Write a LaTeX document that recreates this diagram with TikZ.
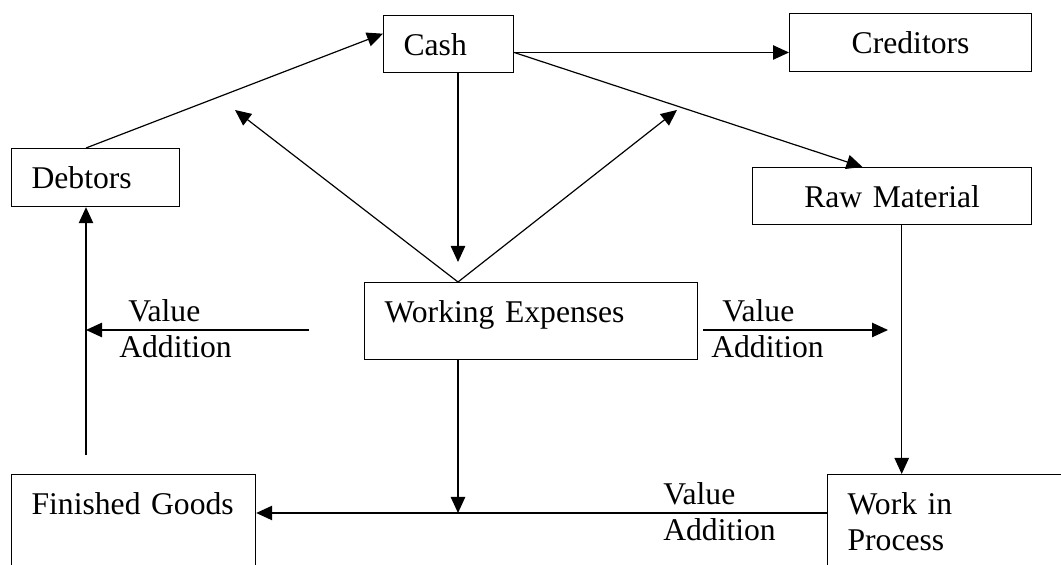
\documentclass[tikz,border=0pt]{standalone}
\usepackage{fontspec}
\setmainfont{Liberation Serif}
\usetikzlibrary{arrows.meta,positioning}

\begin{document}
\begin{tikzpicture}[
  box/.style={draw, line width=0.85pt, anchor=north west, align=left,
              inner xsep=0.5cm, inner ysep=0pt, text height=1cm},
  lbl/.style={anchor=north west, align=left, inner sep=0pt, text height=1.5cm},
  arr/.style={-{Triangle[length=0.4cm,width=0.36cm]}, line width=0.85pt},
  font=\fontsize{22.5pt}{25.6pt}\selectfont
]
  \useasboundingbox (0,0) rectangle (26.525,14.125);

  % boxes
  \node[box, text width=2.25cm, text depth=0.425cm] (cash) at (9.575,13.75) {Cash};
  \node[box, align=center, text width=5.05cm, text depth=0.45cm] (cred) at (19.725,13.8) {Creditors};
  \node[box, text width=3.2cm, text depth=0.45cm] (deb) at (0.275,10.425) {Debtors};
  \node[box, align=center, text width=5.975cm, text depth=0.425cm] (rm) at (18.8,9.95) {Raw Material};
  \node[box, text width=7.325cm, text depth=0.925cm] (we) at (9.1,7.075) {Working Expenses};
  \node[box, text width=5.1cm, text depth=1.475cm] (fg) at (0.275,2.275) {Finished Goods};
  \node[box, text width=5.5cm, text depth=1.475cm] (wip) at (20.675,2.275) {Work in\\Process};

  % value addition labels
  \node[lbl] (valeft) at (2.975,6.7) {\hspace*{0.225cm}Value\\Addition};
  \node[lbl] (varight) at (17.775,6.7) {\hspace*{0.275cm}Value\\Addition};
  \node[lbl] (vabottom) at (16.575,2.125) {Value\\Addition};

  % free ends
  \coordinate (fgtop) at (2.15,2.75);
  \coordinate (wetop) at (11.45,7.075);
  \coordinate (upleft) at (5.875,11.375);
  \coordinate (upright) at (16.925,11.375);
  \coordinate (vals) at (7.725,5.875);
  \coordinate (vars) at (17.575,5.875);
  \coordinate (vare) at (22.2,5.875);
  \coordinate (join) at (11.45,1.3);
  \coordinate (cashout) at ([yshift=-0.21cm]cash.east);

  \draw[arr] (fgtop |- deb.north) -- ([yshift=0.26cm]cash.west);
  \draw[arr] (cashout) -- (cashout -| cred.west);
  \draw[arr] (cashout) -- ([xshift=-0.74cm]rm.north);
  \draw[arr] (cash.south -| wetop) -- ([yshift=0.5cm]wetop);
  \draw[arr] (wetop) -- (upleft);
  \draw[arr] (wetop) -- (upright);
  \draw[arr] ([xshift=0.24cm]rm.south) -- ([xshift=0.24cm]rm.south |- wip.north);
  \draw[arr] (fgtop) -- (fgtop |- deb.south);
  \draw[arr] (vals) -- (vals -| fgtop);
  \draw[arr] (vars) -- (vare);
  \draw[arr] (we.south -| join) -- (join);
  \draw[arr] (join -| wip.west) -- (join -| fg.east);
\end{tikzpicture}
\end{document}
